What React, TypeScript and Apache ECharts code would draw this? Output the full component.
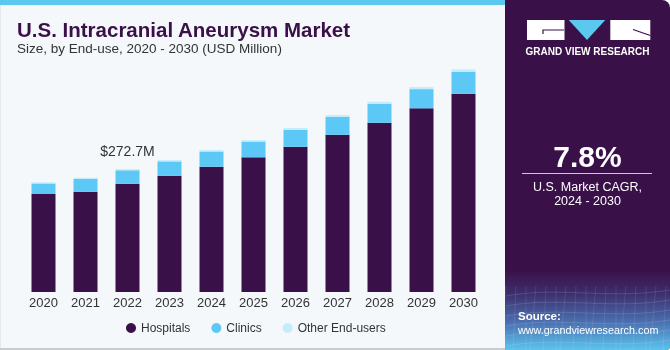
import React, { useEffect, useRef } from "react";
import * as echarts from "echarts";

const years = ["2020", "2021", "2022", "2023", "2024", "2025", "2026", "2027", "2028", "2029", "2030"];
const hospitals = [217.3, 222.4, 240.1, 257.8, 277.8, 298.6, 322.1, 348.7, 375.3, 407.3, 439.6];
const clinics = [23.4, 28.4, 29.8, 31.8, 33.8, 35.0, 37.8, 39.7, 42.3, 42.6, 49.1];
const otherEndUsers = [2.5, 2.6, 2.8, 3.0, 3.2, 3.4, 3.7, 4.0, 4.3, 4.6, 5.0];
const labelIndex = 2;
const labelText = "$272.7M";

const FONT = "'Liberation Sans', Arial, sans-serif";
const PURPLE = "#3a1048";

export default function App() {
  const ref = useRef<HTMLDivElement>(null);
  useEffect(() => {
    if (!ref.current) return;
    const chart = echarts.init(ref.current, undefined, { renderer: "svg" });

    const gridLines: any[] = [];
    // faint wireframe pattern in the bottom of the right panel
    for (let i = 0; i < 6; i++) {
      const y = 292 + i * 10;
      gridLines.push({
        type: "bezierCurve",
        shape: { x1: 506, y1: y + 4, x2: 670, y2: y - 2, cpx1: 560, cpy1: y - 6, cpx2: 610, cpy2: y + 8 },
        style: { stroke: "rgba(255,255,255,0.18)", lineWidth: 0.7, fill: null },
        z: 1,
      });
    }
    for (let i = 0; i < 18; i++) {
      const x = 506 + i * 10;
      gridLines.push({
        type: "line",
        shape: { x1: x, y1: 286, x2: x - 6 + (i % 3) * 3, y2: 350 },
        style: { stroke: "rgba(255,255,255,0.14)", lineWidth: 0.7 },
        z: 1,
      });
    }

    chart.setOption({
      animation: false,
      textStyle: { fontFamily: FONT },
      grid: { left: 22.5, right: 185.5, top: 44, bottom: 58, containLabel: false },
      xAxis: {
        type: "category",
        data: years,
        axisLine: { show: false },
        axisTick: { show: false },
        axisLabel: { color: "#333", fontSize: 13, margin: 4, fontFamily: FONT },
      },
      yAxis: { type: "value", min: 0, max: 550, show: false, splitLine: { show: false } },
      legend: {
        left: 126,
        top: 322,
        padding: 0,
        icon: "circle",
        itemWidth: 10,
        itemHeight: 10,
        itemGap: 21,
        textStyle: { color: "#333", fontSize: 12, fontFamily: FONT },
        data: ["Hospitals", "Clinics", "Other End-users"],
      },
      series: [
        {
          name: "Hospitals",
          type: "bar",
          stack: "total",
          barWidth: 24,
          data: hospitals,
          itemStyle: { color: PURPLE },
        },
        {
          name: "Clinics",
          type: "bar",
          stack: "total",
          barWidth: 24,
          data: clinics,
          itemStyle: { color: "#5bc8f5" },
        },
        {
          name: "Other End-users",
          type: "bar",
          stack: "total",
          barWidth: 24,
          data: otherEndUsers.map((v, i) =>
            i === labelIndex
              ? {
                  value: v,
                  label: {
                    show: true,
                    position: "top",
                    distance: 11,
                    formatter: labelText,
                    fontSize: 14,
                    color: "#333",
                    fontFamily: FONT,
                  },
                }
              : v
          ),
          itemStyle: { color: "#c5ecfa" },
        },
      ],
      graphic: [
        { type: "rect", shape: { x: 0, y: 0, width: 506, height: 350 }, style: { fill: "#f4f8fb", stroke: "#d6dade", lineWidth: 1 }, z: -10 },
        { type: "rect", shape: { x: 0, y: 0, width: 506, height: 5 }, style: { fill: "#5bc8f0" }, z: -9 },
        { type: "rect", shape: { x: 0, y: 348, width: 506, height: 2 }, style: { fill: "#c8ccd0" }, z: -9 },
        { type: "rect", shape: { x: 505, y: 0, width: 165, height: 350, r: [0, 8, 4, 0] }, style: { fill: PURPLE }, z: 0 },
        {
          type: "rect",
          shape: { x: 505, y: 270, width: 165, height: 80, r: [0, 0, 4, 0] },
          style: {
            fill: new echarts.graphic.LinearGradient(0, 0, 0, 1, [
              { offset: 0, color: PURPLE },
              { offset: 0.3, color: "#3d2f6e" },
              { offset: 0.65, color: "#4a6fb0" },
              { offset: 1, color: "#5cc4ee" },
            ]),
          },
          z: 0,
        },
        ...gridLines,
        // logo
        { type: "rect", shape: { x: 527, y: 20, width: 37.5, height: 20 }, style: { fill: "#fff" }, z: 5 },
        { type: "polyline", shape: { points: [[543, 34], [543, 30], [564, 30]] }, style: { stroke: PURPLE, lineWidth: 1.2, fill: null }, z: 6 },
        { type: "polygon", shape: { points: [[568.7, 20], [605.3, 20], [587, 40]] }, style: { fill: "#5bc8f0" }, z: 5 },
        { type: "rect", shape: { x: 610.3, y: 20, width: 40, height: 20 }, style: { fill: "#fff" }, z: 5 },
        { type: "polyline", shape: { points: [[633, 29.5], [650.3, 35.5]] }, style: { stroke: PURPLE, lineWidth: 1.2, fill: null }, z: 6 },
        {
          type: "text",
          x: 587.5,
          y: 51,
          style: { text: "GRAND VIEW RESEARCH", fill: "#fff", font: `bold 10px ${FONT}`, align: "center", verticalAlign: "middle" },
          z: 6,
        },
        {
          type: "text",
          x: 587.5,
          y: 156,
          style: { text: "7.8%", fill: "#fff", font: `bold 30px ${FONT}`, align: "center", verticalAlign: "middle" },
          z: 6,
        },
        { type: "line", shape: { x1: 522, y1: 173.5, x2: 652, y2: 173.5 }, style: { stroke: "#cfc6d8", lineWidth: 1 }, z: 6 },
        {
          type: "text",
          x: 587.5,
          y: 187,
          style: { text: "U.S. Market CAGR,", fill: "#fff", font: `12.5px ${FONT}`, align: "center", verticalAlign: "middle" },
          z: 6,
        },
        {
          type: "text",
          x: 587.5,
          y: 201,
          style: { text: "2024 - 2030", fill: "#fff", font: `12.5px ${FONT}`, align: "center", verticalAlign: "middle" },
          z: 6,
        },
        {
          type: "text",
          x: 518,
          y: 316,
          style: { text: "Source:", fill: "#fff", font: `bold 11.5px ${FONT}`, align: "left", verticalAlign: "middle" },
          z: 6,
        },
        {
          type: "text",
          x: 518,
          y: 330,
          style: { text: "www.grandviewresearch.com", fill: "#fff", font: `10.8px ${FONT}`, align: "left", verticalAlign: "middle" },
          z: 6,
        },
        // titles
        {
          type: "text",
          x: 17,
          y: 29,
          style: { text: "U.S. Intracranial Aneurysm Market", fill: PURPLE, font: `bold 20.5px ${FONT}`, align: "left", verticalAlign: "middle" },
          z: 6,
        },
        {
          type: "text",
          x: 17,
          y: 48,
          style: { text: "Size, by End-use, 2020 - 2030 (USD Million)", fill: "#333", font: `13.5px ${FONT}`, align: "left", verticalAlign: "middle" },
          z: 6,
        },
      ],
    });
    return () => chart.dispose();
  }, []);
  return <div ref={ref} style={{ position: "fixed", left: 0, top: 0, width: 670, height: 350 }} />;
}
